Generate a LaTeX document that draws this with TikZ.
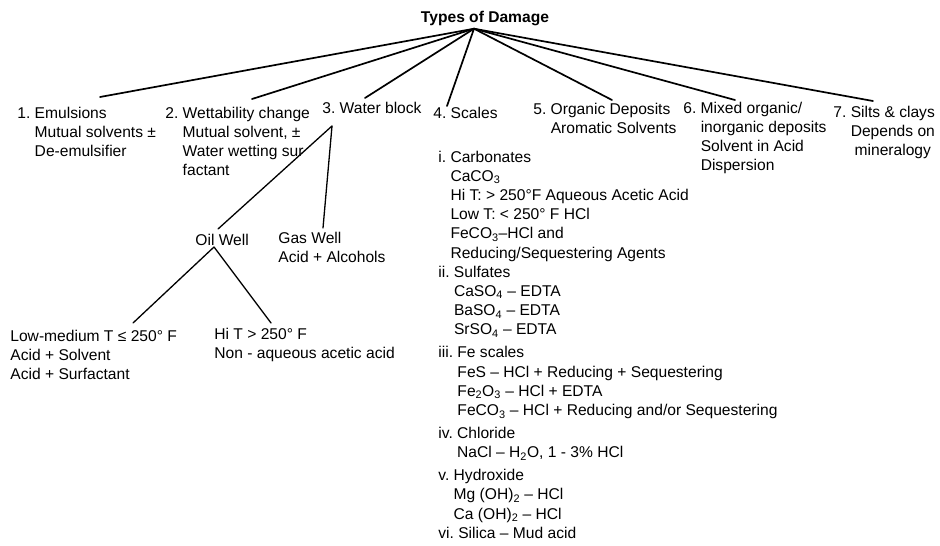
\documentclass[tikz,border=0pt]{standalone}
\usepackage{fontspec}
\setmainfont{Liberation Sans}
\usepackage{tikz}
\newcommand{\numgap}[1]{\hphantom{#1~}}

\begin{document}
\begin{tikzpicture}[x=1pt,y=-1pt,thick]
\tikzstyle{lbl}=[inner sep=0pt,anchor=base west,font=\fontsize{15.6}{19.2}\selectfont]
\tikzstyle{branch}=[line width=1.7pt,line cap=round]
\tikzstyle{twig}=[line width=1.3pt,line cap=round]
\useasboundingbox (0,0) rectangle (940,546);
  \node(root)at(485,23)[lbl,anchor=base,font=\fontsize{15.6}{19.2}\selectfont\bfseries]{Types of Damage};
  \coordinate(hub)at([xshift=-11pt,yshift=-2pt]root.south);
  % the seven kinds of damage
  \node(dmg1)at(17,118)[lbl]{\begin{tabular}[t]{@{}l@{}}1.~Emulsions\\\numgap{1.}Mutual solvents ±\\\numgap{1.}De-emulsifier\end{tabular}};
  \node(dmg2)at(165,118)[lbl]{\begin{tabular}[t]{@{}l@{}}2.~Wettability change\\\numgap{2.}Mutual solvent, ±\\\numgap{2.}Water wetting sur\\\numgap{2.}factant\end{tabular}};
  \node(dmg3)at(322,113)[lbl]{3.~Water block};
  \node(dmg4)at(433,118)[lbl]{4.~Scales};
  \node(dmg5)at(533,114)[lbl]{\begin{tabular}[t]{@{}l@{}}5.~Organic Deposits\\\numgap{5.}Aromatic Solvents\end{tabular}};
  \node(dmg6)at(683,113)[lbl]{\begin{tabular}[t]{@{}l@{}}6.~Mixed organic/\\\numgap{6.}inorganic deposits\\\numgap{6.}Solvent in Acid\\\numgap{6.}Dispersion\end{tabular}};
  \node(dmg7)at(833,117)[lbl]{\begin{tabular}[t]{@{}l@{}c@{}}\mbox{7.~}&Silts \& clays\\&Depends on\\&mineralogy\end{tabular}};
  \coordinate(t1)at(100,97);
  \coordinate(t2)at(252,99);
  \coordinate(t3)at(365,98);
  \coordinate(t4)at(447,106);
  \coordinate(t5)at(612,100);
  \coordinate(t6)at(735,100);
  \coordinate(t7)at(873,101);
  \foreach \t in {t1,t2,t3,t4,t5,t6,t7}
    \draw[branch](hub)--(\t);
  % water block splits by well type
  \coordinate(wb)at(332,126);
  \node(oil)at(195,245)[lbl]{Oil Well};
  \node(gas)at(278,243)[lbl]{\begin{tabular}[t]{@{}l@{}}Gas Well\\Acid + Alcohols\end{tabular}};
  \coordinate(oiltop)at(218,229);
  \coordinate(gastop)at(323,228);
  \draw[twig](wb)--(oiltop);
  \draw[twig](wb)--(gastop);
  \coordinate(ow)at(214,247);
  \node(lowT)at(10,341)[lbl]{\begin{tabular}[t]{@{}l@{}}Low-medium T ≤ 250° F\\Acid + Solvent\\Acid + Surfactant\end{tabular}};
  \node(hiT)at(214,339)[lbl]{\begin{tabular}[t]{@{}l@{}}Hi T > 250° F\\Non - aqueous acetic acid\end{tabular}};
  \coordinate(lowtop)at(133,323);
  \coordinate(hitop)at(271,323);
  \draw[twig](ow)--(lowtop);
  \draw[twig](ow)--(hitop);
  % scale types and their treatments
  \node(scalelist)at(438,162)[lbl]{\begin{tabular}[t]{@{}l@{}}
    i.~Carbonates\\
    \numgap{i.}CaCO\textsubscript{3}\\
    \numgap{i.}Hi T: > 250°F Aqueous Acetic Acid\\
    \numgap{i.}Low T: < 250° F HCl\\
    \numgap{i.}FeCO\textsubscript{3}–HCl and\\
    \numgap{i.}Reducing/Sequestering Agents\\
    ii.~Sulfates\\
    \numgap{ii.}CaSO\textsubscript{4} – EDTA\\
    \numgap{ii.}BaSO\textsubscript{4} – EDTA\\
    \numgap{ii.}SrSO\textsubscript{4} – EDTA\\[3.8pt]
    iii.~Fe scales\\
    \numgap{iii.}FeS – HCl + Reducing + Sequestering\\
    \numgap{iii.}Fe\textsubscript{2}O\textsubscript{3} – HCl + EDTA\\
    \numgap{iii.}FeCO\textsubscript{3} – HCl + Reducing and/or Sequestering\\[3.8pt]
    iv.~Chloride\\
    \numgap{iv.}NaCl – H\textsubscript{2}O, 1 - 3\% HCl\\[3.8pt]
    v.~Hydroxide\\
    \numgap{v.}Mg (OH)\textsubscript{2} – HCl\\
    \numgap{v.}Ca (OH)\textsubscript{2} – HCl\\
    vi.~Silica – Mud acid
  \end{tabular}};
\end{tikzpicture}
\end{document}
